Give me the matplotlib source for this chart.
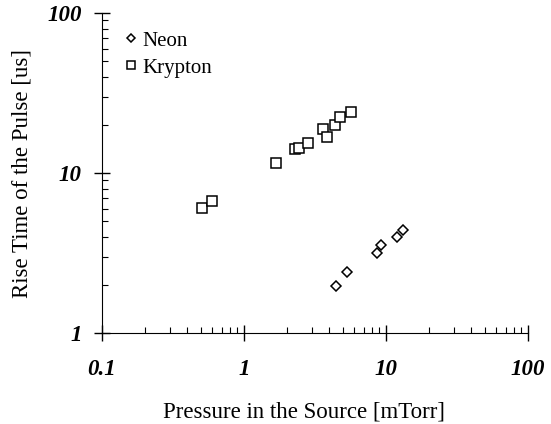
import matplotlib
matplotlib.use("Agg")
import matplotlib.pyplot as plt

# Data
neon_pressure = [4.47, 5.29, 8.6, 9.18, 12.0, 13.2]
neon_rise = [1.97, 2.41, 3.18, 3.55, 3.96, 4.38]

krypton_pressure = [0.506, 0.595, 1.68, 2.28, 2.44, 2.84, 3.62, 3.84, 4.37, 4.72, 5.67]
krypton_rise = [6.04, 6.68, 11.5, 14.1, 14.3, 15.5, 18.8, 16.9, 19.95, 22.5, 24.1]

plt.rcParams["font.family"] = ["Liberation Serif", "DejaVu Serif"]

fig = plt.figure(figsize=(5.51, 4.24), dpi=100)
ax = fig.add_axes([0.185, 0.2146, 0.773, 0.7544])

ax.plot(neon_pressure, neon_rise, linestyle="none", marker="D", markersize=4.6,
        markerfacecolor="white", markeredgecolor="black", markeredgewidth=1.1,
        label="Neon")
ax.plot(krypton_pressure, krypton_rise, linestyle="none", marker="s", markersize=7.2,
        markerfacecolor="white", markeredgecolor="black", markeredgewidth=1.1,
        label="Krypton")

ax.set_xscale("log")
ax.set_yscale("log")
ax.set_xlim(0.1, 100)
ax.set_ylim(1, 100)

ax.set_xticks([0.1, 1, 10, 100])
ax.set_xticklabels(["0.1", "1", "10", "100"])
ax.set_yticks([1, 10, 100])
ax.set_yticklabels(["1", "10", "100"])
for lbl in ax.get_xticklabels() + ax.get_yticklabels():
    lbl.set_fontweight("bold")
    lbl.set_fontstyle("italic")
    lbl.set_fontsize(16.5)

ax.tick_params(which="major", direction="inout", length=11, width=1)
ax.tick_params(axis="y", which="major", pad=9)
ax.tick_params(axis="x", which="major", pad=13)
ax.tick_params(which="minor", direction="in", length=4, width=0.8)

ax.spines["top"].set_visible(False)
ax.spines["right"].set_visible(False)

ax.set_xlabel("Pressure in the Source [mTorr]", fontsize=16.5)
ax.set_ylabel("Rise Time of the Pulse [us]", fontsize=16.5)
ax.xaxis.set_label_coords(0.475, -0.215)
ax.yaxis.set_label_coords(-0.162, 0.5)

leg = ax.legend(loc="upper left", frameon=False, fontsize=15,
                handletextpad=0.15, handlelength=0.8, borderaxespad=0.0,
                bbox_to_anchor=(0.03, 0.97), labelspacing=0.35)
leg.legend_handles[0].set_markersize(4.4)
leg.legend_handles[1].set_markersize(6.4)

fig.savefig("out.png", dpi=100)
